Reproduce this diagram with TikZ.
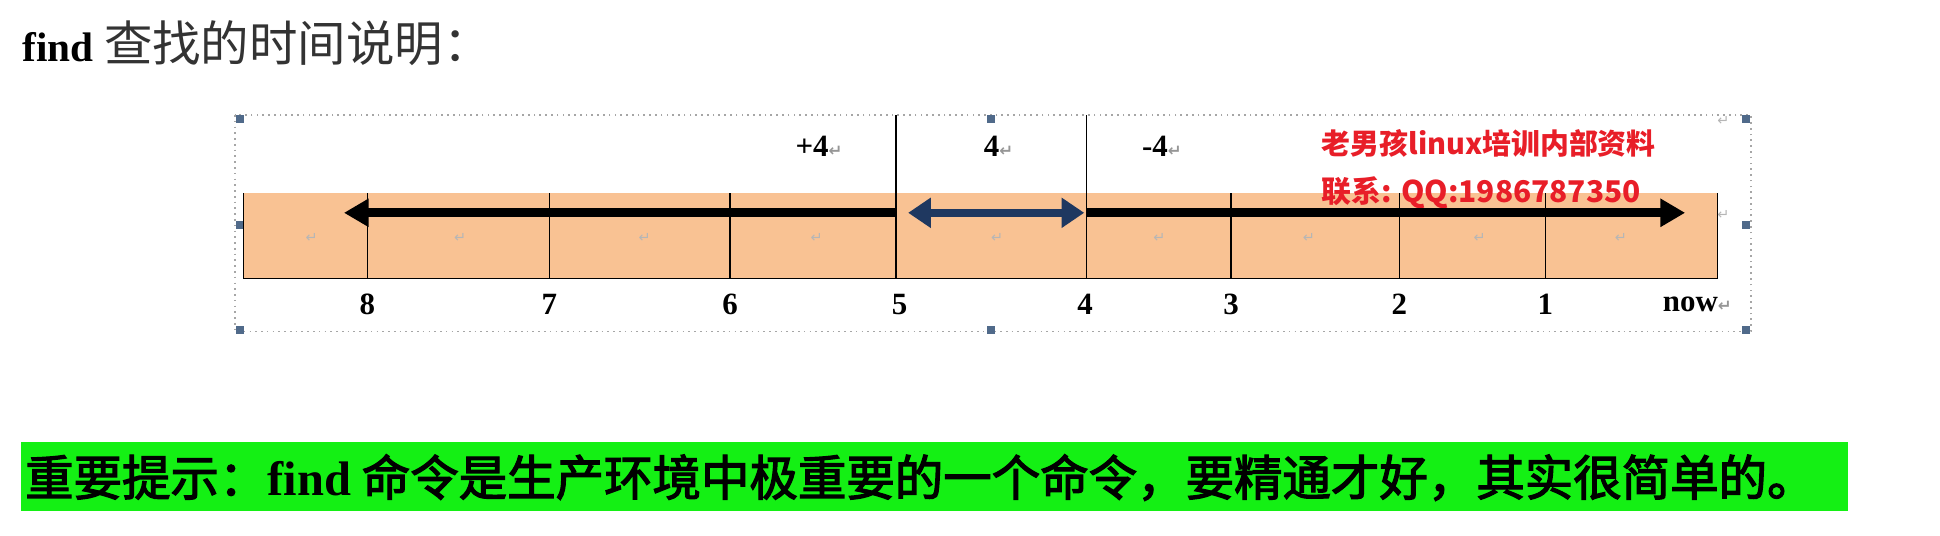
\documentclass[tikz,border=0pt]{standalone}
\usepackage{fontspec}
\setmainfont{Liberation Serif}
\newfontfamily\cjk{Noto Sans CJK SC}
\newfontfamily\cjkheavy[FakeBold=2.5]{Noto Sans CJK SC}
\newfontfamily\symb{DejaVu Sans}
\usetikzlibrary{arrows.meta}
\definecolor{bandfill}{RGB}{249,194,147}
\definecolor{navyarrow}{RGB}{31,56,96}
\definecolor{handleblue}{RGB}{80,106,138}
\definecolor{markgrey}{RGB}{150,150,150}
\definecolor{qqred}{RGB}{232,30,40}
\definecolor{tipgreen}{RGB}{20,240,20}
\newcommand{\retmark}{{\symb\color{markgrey}\fontsize{8}{8}\selectfont ↵}}
\tikzset{
  tick/.style={draw=black, line width=0.7pt},
  numlbl/.style={font=\bfseries\fontsize{15}{15}\selectfont, inner sep=0pt},
  cellmark/.style={font=\symb\fontsize{7}{7}\selectfont, text=markgrey!70, inner sep=0pt},
  handle/.style={fill=handleblue, draw=none, minimum size=4pt, inner sep=0pt},
  bigarrow/.style={line width=4.2pt, -{Triangle[length=12pt,width=13pt]}},
  bothways/.style={draw=navyarrow, line width=3.6pt, {Triangle[length=11pt,width=14pt]}-{Triangle[length=11pt,width=14pt]}}
}
\begin{document}
\begin{tikzpicture}[x=0.6pt,y=0.6pt,yscale=-1,xscale=1]
\useasboundingbox (0,0) rectangle (1568,433);

%Title
\node[anchor=base west, inner sep=0pt] (title) at (18,50)
  {\fontsize{20}{20}\selectfont\textbf{find} {\cjk\fontsize{23.5}{24}\selectfont\color{black!80} 查找的时间说明：}};

%Selection frame
\draw[draw=black!35, dotted, line width=0.8pt] (190,93) rectangle (1415,268);
\foreach \x/\y [count=\i] in {194/96,801/96,1411/96,194/182,1411/182,194/267,801/267,1411/267}
  \node[handle] (h\i) at (\x,\y) {};

%Band
\fill[bandfill] (197,156) rectangle (1388,225);
\draw[tick] (197,156) -- (197,225) -- (1388,225) -- (1388,156);

%Ticks and numbers
\foreach \x/\n in {297/8,444/7,590/6,995/3,1131/2,1249/1}{
  \draw[tick] (\x,156) -- (\x,225);
  \node[numlbl] (lbl\n) at (\x,246) {\n};
}
\draw[tick] (724,93) -- (724,225);
\draw[tick] (878,93) -- (878,225);
\node[numlbl] (lbl5) at (727,246) {5};
\node[numlbl] (lbl4) at (877,246) {4};
\node[numlbl, anchor=east] (lblnow) at (1400,246) {now\retmark};

%Marks in the cells
\foreach \x [count=\i] in {252,372,521,660,806,937,1058,1196,1310}
  \node[cellmark] (cm\i) at (\x,192) {↵};
\node[cellmark] (cmr) at (1393,174) {↵};
\node[cellmark] (cmt) at (1393,98) {↵};

%Range labels
\node[numlbl] (plus) at (662,118) {+4\retmark};
\node[numlbl] (exact) at (807,118) {4\retmark};
\node[numlbl] (minus) at (939,118) {-4\retmark};

%Watermark
\node[anchor=west, inner sep=0pt, text=qqred, font=\cjk\bfseries\fontsize{14}{14}\selectfont] (mark1) at (1068,116) {老男孩linux培训内部资料};
\node[anchor=west, inner sep=0pt, text=qqred, font=\cjk\bfseries\fontsize{14.5}{14.5}\selectfont] (mark2) at (1068,156) {联系: QQ:1986787350};

%Arrows
\coordinate (t5) at (724,172);
\coordinate (t4) at (878,172);
\coordinate (endL) at (278,172);
\coordinate (endR) at (1362,172);
\draw[bigarrow] (t5) -- (endL);
\draw[bigarrow] (t4) -- (endR);
\draw[bothways] ([xshift=6]t5) -- ([xshift=-1]t4);

%Tip bar
\fill[tipgreen] (17,357) rectangle (1494,413);
\node[anchor=west, inner sep=0pt] (tip) at (20,386)
  {\cjkheavy\fontsize{23.5}{24}\selectfont 重要提示：{\rmfamily\bfseries find} 命令是生产环境中极重要的一个命令，要精通才好，其实很简单的。};

\end{tikzpicture}
\end{document}
